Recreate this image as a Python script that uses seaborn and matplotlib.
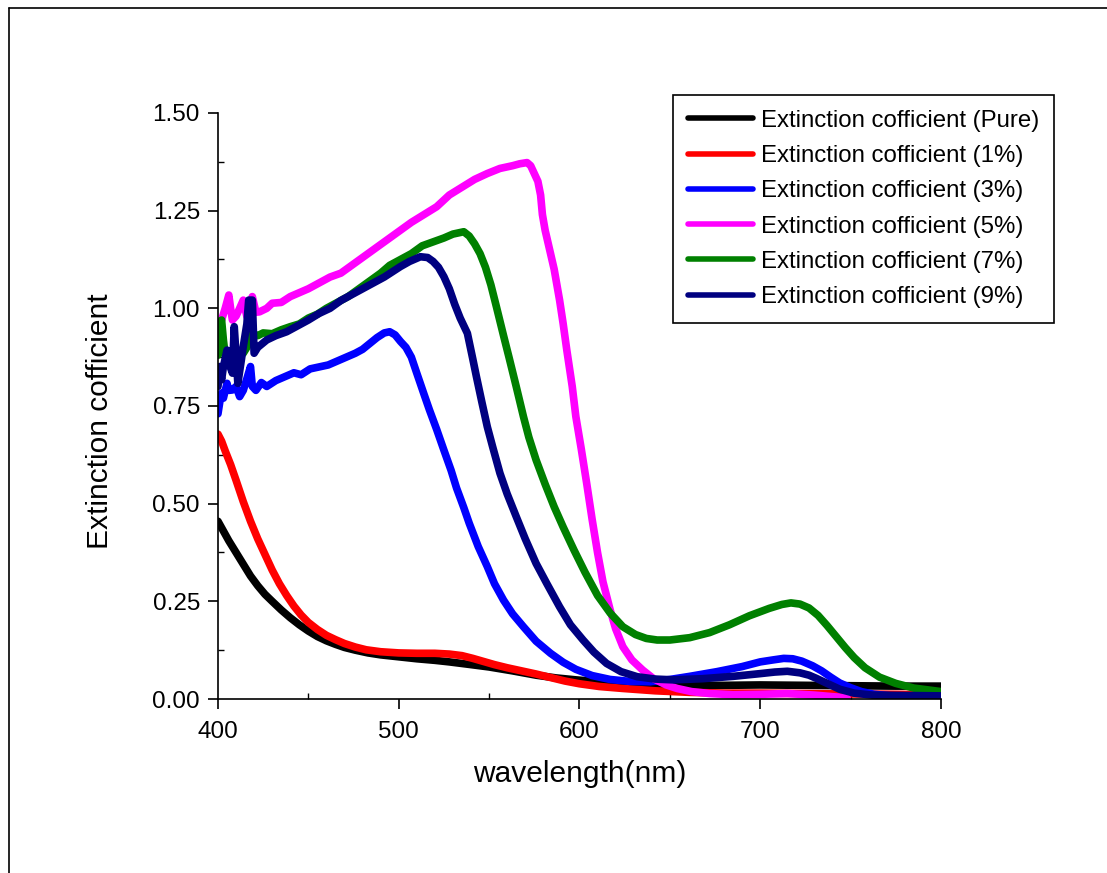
import pandas as pd
import seaborn as sns
import matplotlib.pyplot as plt
from matplotlib.lines import Line2D
from matplotlib.ticker import MultipleLocator, FormatStrFormatter

# wavelength (nm) / extinction coefficient pairs
wl_pure = [400, 403, 406, 410, 414, 418, 422, 426, 430, 435, 440, 445, 450, 455, 460, 465,
           470, 476, 483, 490, 500, 510, 520, 528, 540, 550, 563, 576, 587, 598, 611, 624,
           640, 661, 680, 700, 725, 750, 775, 800]
k_pure = [0.455, 0.43, 0.405, 0.375, 0.345, 0.315, 0.29, 0.268, 0.25, 0.228, 0.208, 0.19,
          0.174, 0.16, 0.149, 0.140, 0.132, 0.125, 0.118, 0.113, 0.108, 0.103, 0.099, 0.095,
          0.088, 0.082, 0.072, 0.061, 0.054, 0.049, 0.044, 0.040, 0.037, 0.035, 0.035, 0.036,
          0.035, 0.034, 0.033, 0.033]

wl_1 = [400, 402, 404, 407, 410, 414, 418, 422, 426, 430, 434, 438, 442, 446, 450, 455, 460,
        465, 470, 476, 482, 490, 500, 510, 520, 528, 535, 541, 547, 553, 560, 568, 576, 584,
        592, 600, 611, 624, 642, 661, 680, 700, 725, 750, 775, 800]
k_1 = [0.678, 0.66, 0.635, 0.60, 0.56, 0.505, 0.455, 0.41, 0.37, 0.33, 0.295, 0.265, 0.238,
       0.215, 0.196, 0.178, 0.163, 0.152, 0.142, 0.133, 0.126, 0.121, 0.118, 0.117, 0.117,
       0.115, 0.111, 0.104, 0.096, 0.088, 0.080, 0.072, 0.064, 0.055, 0.046, 0.039, 0.032,
       0.027, 0.021, 0.017, 0.015, 0.015, 0.014, 0.013, 0.012, 0.011]

wl_3 = [400, 401, 402, 403, 405, 406, 408, 410, 412, 414, 416, 418, 419, 421, 424, 427, 432,
        437, 442, 446, 451, 456, 461, 466, 471, 476, 480, 484, 488, 492, 495, 498, 501, 504,
        507, 510, 514, 517, 521, 525, 529, 532, 536, 539, 544, 549, 553, 558, 563, 569, 576,
        584, 591, 598, 607, 617, 628, 639, 650, 661, 676, 690, 700, 707, 713, 718, 723, 729,
        734, 739, 744, 750, 756, 763, 777, 800]
k_3 = [0.73, 0.76, 0.783, 0.77, 0.808, 0.79, 0.791, 0.80, 0.774, 0.79, 0.82, 0.851, 0.80,
       0.79, 0.81, 0.80, 0.815, 0.825, 0.835, 0.83, 0.845, 0.85, 0.855, 0.865, 0.875, 0.885,
       0.895, 0.91, 0.925, 0.937, 0.94, 0.932, 0.915, 0.90, 0.875, 0.834, 0.78, 0.74, 0.69,
       0.637, 0.585, 0.54, 0.49, 0.45, 0.39, 0.339, 0.295, 0.253, 0.218, 0.185, 0.148,
       0.117, 0.094, 0.076, 0.060, 0.050, 0.045, 0.044, 0.050, 0.058, 0.07, 0.083, 0.095,
       0.10, 0.104, 0.103, 0.097, 0.085, 0.072, 0.056, 0.041, 0.029, 0.019, 0.012, 0.006,
       0.004]

wl_5 = [400, 402, 404, 406, 407, 408, 410, 412, 414, 416, 419, 421, 423, 427, 430, 435, 440,
        445, 450, 456, 462, 468, 474, 480, 486, 492, 501, 507, 514, 521, 528, 535, 542, 549,
        556, 563, 567, 571, 573, 575, 577, 578.5, 579.5, 581, 584, 586, 589, 591, 593, 596,
        598, 601, 604, 607, 610, 613, 617, 620, 624, 629, 635, 641, 648, 654, 662, 672, 685,
        700, 715, 730, 740, 748]
k_5 = [0.945, 0.97, 1.00, 1.034, 1.0, 0.97, 0.98, 1.0, 1.021, 0.979, 1.03, 0.99, 0.991, 1.0,
       1.013, 1.015, 1.03, 1.04, 1.05, 1.065, 1.08, 1.09, 1.11, 1.13, 1.15, 1.17, 1.20, 1.22,
       1.24, 1.26, 1.29, 1.31, 1.33, 1.345, 1.358, 1.365, 1.37, 1.373, 1.365, 1.345, 1.325,
       1.29, 1.24, 1.20, 1.14, 1.10, 1.021, 0.96, 0.893, 0.80, 0.723, 0.64, 0.552, 0.46,
       0.375, 0.30, 0.228, 0.18, 0.134, 0.10, 0.074, 0.052, 0.036, 0.027, 0.019, 0.014,
       0.011, 0.012, 0.014, 0.010, 0.006, 0.003]

wl_7 = [400, 401, 402, 403, 404, 407, 409, 411, 414, 416, 419, 422, 425, 430, 435, 440, 445,
        450, 455, 460, 466, 472, 478, 484, 490, 495, 501, 507, 513, 519, 525, 530, 533, 536,
        539, 542, 545, 548, 551, 554, 558, 561, 565, 569, 572, 576, 581, 586, 591, 597, 603,
        610, 617, 624, 631, 637, 643, 650, 661, 672, 683, 694, 705, 712, 717, 722, 727, 732,
        737, 742, 747, 752, 758, 766, 775, 785, 800]
k_7 = [0.88, 0.96, 0.97, 0.919, 0.88, 0.86, 0.87, 0.88, 0.885, 0.90, 0.937, 0.93, 0.937,
       0.935, 0.945, 0.953, 0.96, 0.975, 0.985, 1.0, 1.015, 1.03, 1.05, 1.07, 1.09, 1.11,
       1.125, 1.14, 1.16, 1.17, 1.18, 1.19, 1.193, 1.196, 1.185, 1.165, 1.14, 1.105, 1.06,
       1.005, 0.93, 0.875, 0.80, 0.723, 0.67, 0.612, 0.55, 0.492, 0.44, 0.381, 0.325, 0.265,
       0.22, 0.185, 0.165, 0.155, 0.151, 0.151, 0.157, 0.17, 0.19, 0.213, 0.232, 0.242,
       0.246, 0.243, 0.233, 0.214, 0.188, 0.16, 0.132, 0.106, 0.08, 0.056, 0.04, 0.028,
       0.019]

wl_9 = [400, 401, 402, 403, 405, 406, 408, 409, 411, 413, 414, 416, 417, 419, 420, 422, 427,
        432, 438, 444, 450, 456, 462, 468, 474, 480, 486, 492, 501, 506, 512, 516, 519, 522,
        525, 528, 531, 534, 538, 541, 543, 546, 549, 552, 556, 560, 565, 570, 576, 582, 589,
        595, 602, 608, 615, 623, 632, 642, 652, 668, 685, 700, 708, 715, 722, 727, 731, 737,
        744, 752, 762, 780, 800]
k_9 = [0.80, 0.851, 0.817, 0.85, 0.893, 0.86, 0.834, 0.953, 0.808, 0.87, 0.902, 0.96,
       1.021, 1.021, 0.885, 0.90, 0.919, 0.93, 0.94, 0.955, 0.97, 0.987, 1.0, 1.02, 1.035,
       1.05, 1.065, 1.08, 1.107, 1.12, 1.132, 1.13, 1.12, 1.105, 1.081, 1.05, 1.01, 0.975,
       0.936, 0.87, 0.825, 0.76, 0.697, 0.645, 0.578, 0.525, 0.467, 0.41, 0.347, 0.295,
       0.236, 0.19, 0.151, 0.12, 0.091, 0.07, 0.057, 0.051, 0.049, 0.052, 0.058, 0.065,
       0.069, 0.071, 0.067, 0.061, 0.053, 0.04, 0.025, 0.015, 0.01, 0.009, 0.008]

series = [
    ("Extinction cofficient (Pure)", wl_pure, k_pure, "#000000"),
    ("Extinction cofficient (1%)", wl_1, k_1, "#FF0000"),
    ("Extinction cofficient (3%)", wl_3, k_3, "#0000FF"),
    ("Extinction cofficient (5%)", wl_5, k_5, "#FF00FF"),
    ("Extinction cofficient (7%)", wl_7, k_7, "#008000"),
    ("Extinction cofficient (9%)", wl_9, k_9, "#000080"),
]

sns.set_style("ticks")
plt.rcParams['font.family'] = ['Liberation Sans', 'DejaVu Sans']
plt.rcParams['axes.edgecolor'] = 'black'
plt.rcParams['axes.labelcolor'] = 'black'
plt.rcParams['text.color'] = 'black'
plt.rcParams['xtick.color'] = 'black'
plt.rcParams['ytick.color'] = 'black'

fig = plt.figure(figsize=(11.07, 8.73), dpi=100)
ax = fig.add_axes([0.1969, 0.1993, 0.6531, 0.6713])

for label, wl, k, color in series:
    df = pd.DataFrame({"wavelength": wl, "k": k})
    sns.lineplot(data=df, x="wavelength", y="k", color=color, lw=5.5, label=label,
                 ax=ax, estimator=None, sort=False)

ax.set_xlim(400, 800)
ax.set_ylim(0, 1.5)
ax.xaxis.set_major_locator(MultipleLocator(100))
ax.xaxis.set_minor_locator(MultipleLocator(50))
ax.yaxis.set_major_locator(MultipleLocator(0.25))
ax.yaxis.set_minor_locator(MultipleLocator(0.125))
ax.yaxis.set_major_formatter(FormatStrFormatter('%.2f'))
sns.despine(ax=ax)
for sp in ax.spines.values():
    sp.set_linewidth(1.2)
ax.tick_params(which='major', direction='out', length=7, width=1.2, labelsize=17.5, pad=6)
ax.tick_params(axis='x', which='major', pad=9)
ax.tick_params(which='minor', direction='in', length=4, width=1.0)

ax.set_xlabel('wavelength(nm)', fontsize=21.5, labelpad=12)
ax.set_ylabel('Extinction cofficient', fontsize=21.5)
ax.yaxis.set_label_coords(-0.144, 0.4735)

leg = ax.legend(loc='upper left', bbox_to_anchor=(673 / 1107, 1 - 95 / 873),
                bbox_transform=fig.transFigure, frameon=True, fancybox=False,
                edgecolor='black', framealpha=1, fontsize=17.3, handlelength=2.7,
                handletextpad=0.35, labelspacing=0.55, borderpad=0.62, borderaxespad=0)
leg.get_frame().set_linewidth(1.2)
for line in leg.get_lines():
    line.set_linewidth(4)

# thin frame around the figure (left and top edges only are visible in the original)
fig.add_artist(Line2D([8.5 / 1107, 8.5 / 1107], [0, 1 - 7.5 / 873],
                      transform=fig.transFigure, color='black', lw=1.2))
fig.add_artist(Line2D([8.5 / 1107, 1], [1 - 7.5 / 873, 1 - 7.5 / 873],
                      transform=fig.transFigure, color='black', lw=1.2))

fig.savefig('out.png', dpi=100)
